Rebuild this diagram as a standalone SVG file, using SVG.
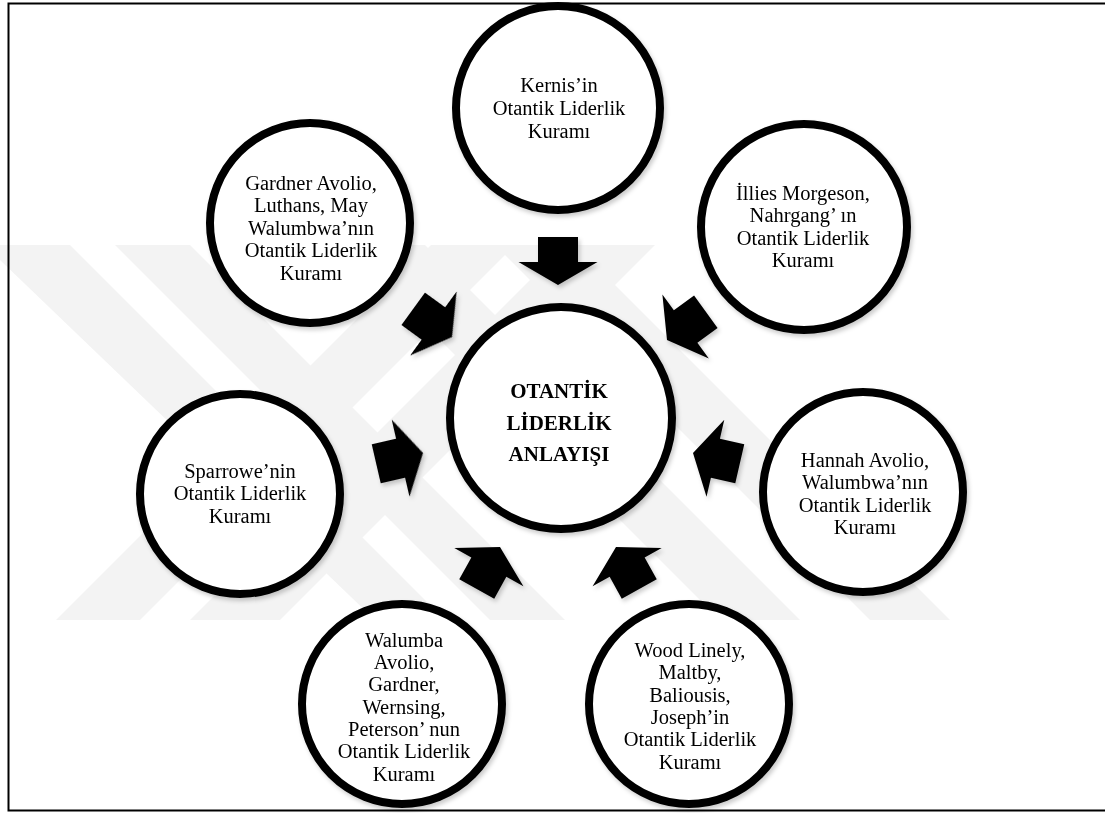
<svg xmlns="http://www.w3.org/2000/svg" width="1105" height="813" viewBox="0 0 1105 813">
  <style>
    .node { fill: #ffffff; stroke: #000000; stroke-width: 8; }
    .lbl { font-family: "Liberation Serif", "Times New Roman", serif; font-size: 20.5px; fill: #000000; text-anchor: middle; }
    .hub { font-weight: bold; font-size: 21px; }
    .band { fill: #f3f3f3; }
    .arrow { fill: #000000; }
  </style>
  <defs>
    <filter id="shadow" x="-20%" y="-20%" width="140%" height="140%">
      <feDropShadow dx="2" dy="3" stdDeviation="2" flood-color="#000000" flood-opacity="0.2"/>
    </filter>
    <!-- block arrow pointing along +y, tip at the origin -->
    <path id="blockArrow" d="M0,0 L-39.5,-23 L-20,-23 L-20,-48 L20,-48 L20,-23 L39.5,-23 Z"/>
  </defs>

  <rect width="1105" height="813" fill="#ffffff"/>

  <!-- faint background stripes -->
  <g id="watermark">
    <polygon class="band" points="0,245 70,245 445,620 375,620 0,260"/>
    <polygon class="band" points="115,245 190,245 565,620 490,620"/>
    <polygon class="band" points="56,620 140,620 515,245 431,245"/>
    <polygon class="band" points="190,620 280,620 655,245 565,245"/>
    <polygon class="band" points="345,245 425,245 800,620 720,620"/>
    <polygon class="band" points="495,245 575,245 950,620 870,620"/>
  </g>

  <!-- frame -->
  <path d="M1106,3.5 H8.5 V810.5 H1106" fill="none" stroke="#000000" stroke-width="2"/>

  <!-- connectors: block arrows aimed at the hub -->
  <g id="connectors" class="arrow" filter="url(#shadow)">
    <use href="#blockArrow" transform="translate(558,285)"/>
    <use href="#blockArrow" transform="translate(452,337) rotate(-54)"/>
    <use href="#blockArrow" transform="translate(667,340) rotate(54)"/>
    <use href="#blockArrow" transform="translate(423,453) rotate(-103)"/>
    <use href="#blockArrow" transform="translate(693,453) rotate(103)"/>
    <use href="#blockArrow" transform="translate(500,547) rotate(-151)"/>
    <use href="#blockArrow" transform="translate(616,547) rotate(151)"/>
  </g>

  <g id="hub" filter="url(#shadow)">
    <circle class="node" cx="561" cy="418" r="111"/>
    <text class="lbl hub" x="559" y="398">OTANTİK</text>
    <text class="lbl hub" x="559" y="430">LİDERLİK</text>
    <text class="lbl hub" x="559" y="461">ANLAYIŞI</text>
  </g>

  <g id="kernis" filter="url(#shadow)">
    <circle class="node" cx="558" cy="108" r="102"/>
    <text class="lbl" x="559" y="92">Kernis’in</text>
    <text class="lbl" x="559" y="115">Otantik Liderlik</text>
    <text class="lbl" x="559" y="138">Kuramı</text>
  </g>

  <g id="gardner" filter="url(#shadow)">
    <circle class="node" cx="310" cy="223" r="100"/>
    <text class="lbl" x="311" y="190">Gardner Avolio,</text>
    <text class="lbl" x="311" y="212">Luthans, May</text>
    <text class="lbl" x="311" y="235">Walumbwa’nın</text>
    <text class="lbl" x="311" y="257">Otantik Liderlik</text>
    <text class="lbl" x="311" y="280">Kuramı</text>
  </g>

  <g id="illies" filter="url(#shadow)">
    <circle class="node" cx="804" cy="227" r="103"/>
    <text class="lbl" x="803" y="200">İllies Morgeson,</text>
    <text class="lbl" x="803" y="222">Nahrgang’ ın</text>
    <text class="lbl" x="803" y="245">Otantik Liderlik</text>
    <text class="lbl" x="803" y="267">Kuramı</text>
  </g>

  <g id="sparrowe" filter="url(#shadow)">
    <circle class="node" cx="240" cy="494" r="100"/>
    <text class="lbl" x="240" y="478">Sparrowe’nin</text>
    <text class="lbl" x="240" y="500">Otantik Liderlik</text>
    <text class="lbl" x="240" y="523">Kuramı</text>
  </g>

  <g id="hannah" filter="url(#shadow)">
    <circle class="node" cx="863" cy="492" r="100"/>
    <text class="lbl" x="865" y="467">Hannah Avolio,</text>
    <text class="lbl" x="865" y="489">Walumbwa’nın</text>
    <text class="lbl" x="865" y="512">Otantik Liderlik</text>
    <text class="lbl" x="865" y="534">Kuramı</text>
  </g>

  <g id="walumba" filter="url(#shadow)">
    <circle class="node" cx="402" cy="704" r="100"/>
    <text class="lbl" x="404" y="647">Walumba</text>
    <text class="lbl" x="404" y="669">Avolio,</text>
    <text class="lbl" x="404" y="691">Gardner,</text>
    <text class="lbl" x="404" y="714">Wernsing,</text>
    <text class="lbl" x="404" y="736">Peterson’ nun</text>
    <text class="lbl" x="404" y="758">Otantik Liderlik</text>
    <text class="lbl" x="404" y="781">Kuramı</text>
  </g>

  <g id="wood" filter="url(#shadow)">
    <circle class="node" cx="689" cy="704" r="100"/>
    <text class="lbl" x="690" y="657">Wood Linely,</text>
    <text class="lbl" x="690" y="679">Maltby,</text>
    <text class="lbl" x="690" y="702">Baliousis,</text>
    <text class="lbl" x="690" y="724">Joseph’in</text>
    <text class="lbl" x="690" y="746">Otantik Liderlik</text>
    <text class="lbl" x="690" y="769">Kuramı</text>
  </g>
</svg>
